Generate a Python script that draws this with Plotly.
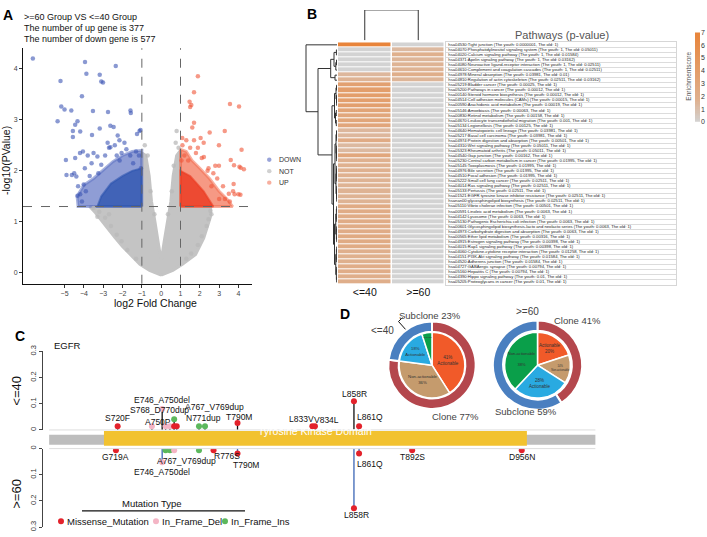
import math
import plotly.graph_objects as go

W, H = 707, 537
FONT = "Liberation Sans, Arial, sans-serif"


def px(x):
    return x / W


def py(y):
    return 1 - y / H


# ---------------- A: volcano ----------------
down_fc = [-6.64, -5.21, -3.94, -3.87, -2.35, -3.18, -3.10, -3.01, -4.10, -5.17, -5.0, -4.65, -3.53,
           -2.75, -1.59, -1.57, -5.36, -4.33, -4.45, -3.18, -2.63, -2.46, -1.12, -1.07, -1.25, -4.57,
           -4.19, -4.57, -3.58, -2.25, -2.16, -2.77, -2.63, -4.93, -4.62, -4.39, -4.19, -4.33, -4.01,
           -1.3, -1.6, -2.05, -2.3, -3.3, -3.5, -3.8, -4.2, -4.45, -3.1, -2.7, -2.4, -1.9, -3.95, -4.5,
           -4.9, -1.15, -1.45, -3.6, -3.25, -2.9, -1.8, -2.15, -4.05, -3.7, -1.05, -4.3, -4.1, -3.9]
down_lp = [4.2, 3.76, 4.13, 3.90, 4.05, 3.88, 3.75, 3.73, 3.46, 3.26, 3.20, 3.18, 3.17,
           3.15, 3.18, 3.13, 2.97, 2.97, 2.90, 2.83, 2.88, 2.86, 2.78, 2.80, 2.72, 2.78,
           2.77, 2.66, 2.70, 2.69, 2.60, 2.55, 2.46, 2.21, 1.92, 1.89, 1.54, 1.51, 1.73,
           2.38, 2.3, 2.35, 2.3, 2.28, 2.35, 2.3, 2.35, 2.25, 2.12, 2.45, 2.5, 2.55, 2.05, 1.95,
           1.92, 2.3, 2.15, 2.15, 1.95, 2.3, 2.42, 2.2, 2.38, 1.9, 2.05, 1.7, 1.4, 1.6]
up_fc = [1.90, 1.70, 1.47, 1.56, 1.50, 3.56, 4.03, 1.70, 1.61, 1.09, 2.51, 2.04, 3.29, 2.99, 4.16,
         2.21, 3.60, 4.05, 3.77, 2.99, 4.28, 4.11, 3.75, 3.72, 3.8, 4.0, 4.1,
         1.1, 1.3, 1.5, 1.2, 1.8, 2.1, 2.4, 2.7, 2.9, 3.2, 3.5, 2.2, 1.7, 2.45, 2.8, 1.05, 1.4,
         3.3, 3.55, 3.0, 2.6, 1.9]
up_lp = [3.85, 3.54, 3.35, 3.29, 3.25, 3.31, 3.26, 2.94, 2.85, 2.64, 2.75, 2.64, 2.78, 2.50, 2.41,
         2.27, 2.21, 2.08, 2.11, 2.10, 2.03, 2.06, 1.74, 1.6, 1.54, 1.54, 1.53,
         2.5, 2.6, 2.45, 2.3, 2.35, 2.25, 2.0, 1.95, 1.85, 1.7, 1.55, 2.55, 2.6, 2.05, 2.1, 2.2, 2.2,
         1.45, 1.4, 1.45, 1.7, 2.45]
not_fc = [0.8, 0.75, -0.85, 0.9, -0.7, 0.65, -3.5, -3.2, -2.9, -2.6, -2.3, -2.05, -1.75, 2.55, 2.45,
          2.35, 2.1, 1.9, 1.55, -1.3, 1.3, -0.55, 0.55, -0.35, 0.35, -3.3, 2.6, -2.7]
not_lp = [2.78, 2.55, 2.5, 2.45, 2.3, 2.1, 1.27, 1.2, 1.08, 0.92, 0.75, 0.62, 0.45, 1.22, 1.05,
          0.92, 0.72, 0.55, 0.38, 0.28, 0.28, 1.6, 1.6, 1.15, 1.15, 1.1, 1.15, 1.15]

# outlines of the dense, overplotted clouds
not_cloud_fc = [0, -0.6, -1.1, -1.6, -2.0, -2.4, -3.0, -3.4, -3.7, -1.0, -1.0, -0.8, -0.62, -0.5, -0.32,
                -0.15, 0, 0.15, 0.31, 0.5, 0.62, 0.8, 1.0, 1.0, 2.56, 2.55, 2.47, 2.2, 1.78, 1.1, 0.6, 0]
not_cloud_lp = [-0.04, 0.05, 0.17, 0.36, 0.52, 0.7, 1.0, 1.18, 1.3, 1.3, 2.35, 2.3, 1.9, 1.4, 1.0,
                0.6, 0.23, 0.6, 1.0, 1.4, 1.9, 2.3, 2.4, 1.3, 1.3, 1.1, 1.0, 0.68, 0.36, 0.17, 0.05, -0.04]
down_cloud_fc = [-1.0, -4.3, -4.35, -4.0, -3.5, -3.0, -2.5, -2.0, -1.5, -1.0, -1.0]
down_cloud_lp = [1.3, 1.3, 1.5, 1.72, 1.85, 2.02, 2.18, 2.3, 2.38, 2.4, 1.3]
down_core_fc = [-1.0, -3.3, -3.1, -2.6, -2.0, -1.5, -1.0, -1.0]
down_core_lp = [1.3, 1.3, 1.5, 1.75, 1.9, 2.0, 2.05, 1.3]
up_cloud_fc = [1.0, 1.0, 1.3, 1.6, 2.0, 2.5, 3.0, 3.4, 3.7, 1.0]
up_cloud_lp = [1.3, 2.42, 2.38, 2.2, 2.05, 1.85, 1.6, 1.45, 1.3, 1.3]
up_core_fc = [1.0, 1.0, 1.5, 2.2, 2.7, 1.0]
up_core_lp = [1.3, 2.0, 1.9, 1.6, 1.3, 1.3]

n_up, n_down = 377, 577

# ---------------- B: pathway heatmap ----------------
path_id = ["hsa04530", "hsa04070", "hsa04020", "hsa04371", "hsa04080", "hsa04610", "hsa04978", "hsa04810",
           "hsa05219", "hsa05200", "hsa00140", "hsa04514", "hsa00590", "hsa05146", "hsa00830", "hsa04670",
           "hsa05134", "hsa04640", "hsa05217", "hsa04974", "hsa04310", "hsa05323", "hsa04540", "hsa05230",
           "hsa05145", "hsa04976", "hsa04510", "hsa05222", "hsa04014", "hsa05133", "hsa01521", "hsanan00",
           "hsa05110", "hsa00591", "hsa04142", "hsa05130", "hsa00601", "hsa04973", "hsa00565", "hsa04915",
           "hsa04015", "hsa04060", "hsa04151", "hsa04520", "hsa04727", "hsa05160", "hsa04390", "hsa05205"]
path_name = ["Tight junction", "Phosphatidylinositol signaling system", "Calcium signaling pathway",
             "Apelin signaling pathway", "Neuroactive ligand-receptor interaction",
             "Complement and coagulation cascades", "Mineral absorption", "Regulation of actin cytoskeleton",
             "Bladder cancer", "Pathways in cancer", "Steroid hormone biosynthesis",
             "Cell adhesion molecules (CAMs)", "Arachidonic acid metabolism", "Amoebiasis",
             "Retinol metabolism", "Leukocyte transendothelial migration", "Legionellosis",
             "Hematopoietic cell lineage", "Basal cell carcinoma", "Protein digestion and absorption",
             "Wnt signaling pathway", "Rheumatoid arthritis", "Gap junction",
             "Central carbon metabolism in cancer", "Toxoplasmosis", "Bile secretion", "Focal adhesion",
             "Small cell lung cancer", "Ras signaling pathway", "Pertussis",
             "EGFR tyrosine kinase inhibitor resistance", "glycosphingolipid biosynthesis",
             "Vibrio cholerae infection", "Linoleic acid metabolism", "Lysosome",
             "Pathogenic Escherichia coli infection",
             "Glycosphingolipid biosynthesis-lacto and neolacto series",
             "Carbohydrate digestion and absorption", "Ether lipid metabolism", "Estrogen signaling pathway",
             "Rap1 signaling pathway", "Cytokine-cytokine receptor interaction", "PI3K-Akt signaling pathway",
             "Adherens junction", "GABAergic synapse", "Hepatitis C", "Hippo signaling pathway",
             "Proteoglycans in cancer"]
p_youth = [0.0000001, 1, 1, 1, 1, 1, 0.03981, 0.02511, 0.00025, 0.00012, 0.00012, 0.00015, 0.00019,
           0.00063, 0.00158, 0.001, 0.00125, 0.03981, 0.03981, 0.00501, 0.05011, 0.05011, 0.00162,
           0.01995, 0.01995, 0.01995, 0.01995, 0.02511, 0.02511, 0.02511, 0.02511, 0.02511, 0.00501,
           0.0063, 0.0063, 0.0063, 0.0063, 0.0063, 0.00316, 0.00398, 0.00398, 0.01258, 0.01584,
           0.01584, 0.00794, 0.00794, 0.01, 0.01]
p_old = [1, 0.05011, 0.01584, 0.03162, 0.02511, 0.02511, 0.01, 0.03162] + [1] * 40
groups = ["<=40", ">=60"]
score_ticks = [0, 1, 2, 3, 4, 5, 6, 7]

# ---------------- C: EGFR lollipop ----------------
mut_types = ["Missense_Mutation", "In_Frame_Del", "In_Frame_Ins"]
type_color = {"Missense_Mutation": "#e3222b", "In_Frame_Del": "#f4b5c5", "In_Frame_Ins": "#5cb85c"}
young_pos = [720, 740, 746, 748, 750.5, 753, 754.5, 753, 767.5, 771, 790, 833.7, 835.2, 858, 861]
young_frac = [0.014, 0.014, 0.08, 0.014, 0.014, 0.014, 0.014, 0.041, 0.014, 0.014, 0.027, 0.014, 0.014,
              0.11, 0.014]
young_type = ["Missense_Mutation", "In_Frame_Del", "In_Frame_Del", "In_Frame_Del", "In_Frame_Del",
              "Missense_Mutation", "Missense_Mutation", "In_Frame_Ins", "In_Frame_Ins", "In_Frame_Ins",
              "Missense_Mutation", "Missense_Mutation", "Missense_Mutation", "Missense_Mutation",
              "Missense_Mutation"]
old_pos = [719, 746, 748, 750.5, 753, 767.5, 776, 790, 858, 861, 892, 956]
old_frac = [0.006, 0.052, 0.006, 0.006, 0.006, 0.006, 0.006, 0.019, 0.228, 0.019, 0.006, 0.006]
old_type = ["Missense_Mutation", "In_Frame_Del", "In_Frame_Ins", "In_Frame_Ins", "In_Frame_Del",
            "In_Frame_Ins", "Missense_Mutation", "Missense_Mutation", "Missense_Mutation",
            "Missense_Mutation", "Missense_Mutation", "Missense_Mutation"]
young_lab = ["S720F", "E746_A750del", "S768_D770dup", "A767_V769dup", "A750P", "N771dup", "T790M",
             "L833V", "V834L", "L858R", "L861Q"]
young_lab_pos = [720, 746, 744.3, 776.8, 743.4, 770.4, 790.6, 827.5, 841.7, 858.6, 867.4]
young_lab_frac = [0.045, 0.116, 0.075, 0.089, 0.029, 0.047, 0.049, 0.042, 0.039, 0.139, 0.048]
old_lab = ["G719A", "E746_A750del", "A767_V769dup", "R776S", "T790M", "L861Q", "L858R", "T892S", "D956N"]
old_lab_pos = [719, 745.7, 760, 784, 795, 867.4, 859.4, 892, 956]
old_lab_frac = [0.031, 0.089, 0.048, 0.03, 0.063, 0.059, 0.255, 0.031, 0.031]
protein_range = [680, 999]
kinase_domain = [712, 959]

# ---------------- D: clonality donuts ----------------
ring_labels = ["Clone", "Subclone"]
ring_young = [77, 23]
ring_old = [41, 59]
inner_young = [41, 36, 18, 5]
inner_old = [20, 14, 28, 38]
inner_text_young = ["41%<br>Actionable", "Non-actionable<br>36%", "18%<br>Actionable", "Non-actionable"]
inner_text_old = ["Actionable<br>20%", "14%<br>Non-actionable", "28%<br>Actionable",
                  "Non-actionable<br><br>38%"]

fig = go.Figure()

# volcano traces
fig.add_trace(go.Scatter(x=not_cloud_fc, y=not_cloud_lp, fill="toself", mode="lines",
                         line=dict(color="#c4c4c4", width=3), fillcolor="#c4c4c4", hoverinfo="skip"))
fig.add_trace(go.Scatter(x=down_cloud_fc, y=down_cloud_lp, fill="toself", mode="lines",
                         line=dict(color="rgba(95,115,195,0.55)", width=3),
                         fillcolor="rgba(95,115,195,0.7)", hoverinfo="skip"))
fig.add_trace(go.Scatter(x=down_core_fc, y=down_core_lp, fill="toself", mode="lines",
                         line=dict(color="rgba(45,85,175,0.6)", width=2),
                         fillcolor="rgba(45,85,175,0.8)", hoverinfo="skip"))
fig.add_trace(go.Scatter(x=up_cloud_fc, y=up_cloud_lp, fill="toself", mode="lines",
                         line=dict(color="rgba(242,110,80,0.55)", width=3),
                         fillcolor="rgba(242,110,80,0.7)", hoverinfo="skip"))
fig.add_trace(go.Scatter(x=up_core_fc, y=up_core_lp, fill="toself", mode="lines",
                         line=dict(color="rgba(235,60,35,0.6)", width=2),
                         fillcolor="rgba(235,60,35,0.85)", hoverinfo="skip"))
fig.add_trace(go.Scatter(x=not_fc, y=not_lp, mode="markers",
                         marker=dict(size=4.5, color="rgba(185,185,185,0.75)")))
fig.add_trace(go.Scatter(x=down_fc, y=down_lp, mode="markers",
                         marker=dict(size=4.5, color="rgba(60,85,180,0.6)")))
fig.add_trace(go.Scatter(x=up_fc, y=up_lp, mode="markers",
                         marker=dict(size=4.5, color="rgba(240,85,55,0.6)")))

# heatmap
score = [[-math.log10(a), -math.log10(b)] for a, b in zip(p_youth, p_old)]


def fmt(v):
    return f"{v:.8f}".rstrip("0").rstrip(".")


labels = [f"{i}:{n} (The youth: {fmt(a)}, The old: {fmt(b)})"
          for i, n, a, b in zip(path_id, path_name, p_youth, p_old)]
rows = list(range(len(labels)))
heat_scale = [[0, "#d3d3d3"], [0.25, "#dfb08e"], [1, "#e8843a"]]

fig.add_trace(go.Heatmap(z=score, x=[0, 1], y=rows, xaxis="x2", yaxis="y2", zmin=0, zmax=7,
                         colorscale=heat_scale, xgap=1.5, ygap=1, showscale=False))
fig.add_trace(go.Scatter(x=[0.01] * len(labels), y=rows, text=labels, mode="text",
                         textposition="middle right", xaxis="x3", yaxis="y3",
                         textfont=dict(size=4.2, family=FONT, color="#222")))
# colour key drawn as a thin heatmap strip
key_levels = [i / 10 for i in range(71)]
fig.add_trace(go.Heatmap(z=[[v] for v in key_levels], x=[0], y=key_levels, xaxis="x8", yaxis="y8",
                         zmin=0, zmax=7, colorscale=heat_scale, showscale=False))


# dendrograms
def bal(leaves, top):
    if len(leaves) == 1:
        return leaves[0]
    m = len(leaves) // 2
    sub = max(top * 0.5, 0.3)
    return (top, bal(leaves[:m], sub), bal(leaves[m:], sub))


def dendro(node, xs, ys):
    if isinstance(node, int):
        return node, 0.0
    h, a, b = node
    pa, ha = dendro(a, xs, ys)
    pb, hb = dendro(b, xs, ys)
    xs += [ha, h, h, hb, None]
    ys += [pa, pa, pb, pb, None]
    return (pa + pb) / 2, h


A1 = (3.0, bal([1, 2], 0.6), (1.2, bal([3, 4], 0.5), 5))
A = (6.3, A1, (2.0, 6, 7))
B = (2.5, bal(list(range(8, 13)), 1.0), bal(list(range(13, 17)), 1.5))
C = (3.5, bal(list(range(17, 32)), 2.0), bal(list(range(32, 48)), 2.5))
row_tree = (31.0, 0, (19.0, A, (5.0, B, C)))
dx, dy = [], []
dendro(row_tree, dx, dy)
fig.add_trace(go.Scatter(x=dx, y=dy, mode="lines", xaxis="x4", yaxis="y4",
                         line=dict(color="#333", width=1)))
cx, cy = [], []
dendro((1.0, 0, 1), cy, cx)
fig.add_trace(go.Scatter(x=cx, y=cy, mode="lines", xaxis="x5", yaxis="y5",
                         line=dict(color="#333", width=1)))

# lollipops
for pos, frac, typ, yax, stick in [(young_pos, young_frac, young_type, "y6", "#111"),
                                   (old_pos, old_frac, old_type, "y7", "#3b66b5")]:
    sx, sy = [], []
    for p, f in zip(pos, frac):
        sx += [p, p, None]
        sy += [0, f, None]
    fig.add_trace(go.Scatter(x=sx, y=sy, mode="lines", xaxis="x6", yaxis=yax,
                             line=dict(color=stick, width=1.3)))
    fig.add_trace(go.Scatter(x=pos, y=frac, mode="markers", xaxis="x6", yaxis=yax,
                             marker=dict(size=6, color=[type_color[t] for t in typ])))

# donuts
ring_colors = ["#b4474d", "#4a7fc0"]
inner_colors = ["#f15a29", "#c59b6d", "#29aae1", "#0a9f4a"]
for ring, inner, itext, cxp, r_out, r_in in [(ring_young, inner_young, inner_text_young, 432, 44.5, 33.5),
                                             (ring_old, inner_old, inner_text_old, 537.5, 45.5, 33.5)]:
    cyp = 366
    fig.add_trace(go.Pie(values=ring, labels=ring_labels, sort=False, direction="clockwise",
                         hole=(r_out - 10.5) / r_out, textinfo="none",
                         marker=dict(colors=ring_colors, line=dict(color="white", width=2)),
                         domain=dict(x=[px(cxp - r_out), px(cxp + r_out)],
                                     y=[py(cyp + r_out), py(cyp - r_out)])))
    fig.add_trace(go.Pie(values=inner, sort=False, direction="clockwise", text=itext,
                         textinfo="text", textposition="inside", insidetextorientation="horizontal",
                         textfont=dict(size=4.5, color="#333", family=FONT),
                         marker=dict(colors=inner_colors, line=dict(color="white", width=1.5)),
                         domain=dict(x=[px(cxp - r_in), px(cxp + r_in)],
                                     y=[py(cyp + r_in), py(cyp - r_in)])))


def note(x, y, text, size=9, color="#222", xanchor="center", angle=0):
    return dict(x=px(x), y=py(y), xref="paper", yref="paper", text=text, showarrow=False,
                font=dict(family=FONT, size=size, color=color), xanchor=xanchor,
                yanchor="middle", textangle=angle)


ann = [
    note(8, 9, "<b>A</b>", 14, "#000"), note(312, 8, "<b>B</b>", 14, "#000"),
    note(20, 336, "<b>C</b>", 14, "#000"), note(345, 314, "<b>D</b>", 14, "#000"),
    note(22, 11, ">=60 Group VS <=40 Group", 9, "#111", "left"),
    note(22, 22.5, f"The number of up gene is {n_up}", 9, "#111", "left"),
    note(22, 33.5, f"The number of down gene is {n_down}", 9, "#111", "left"),
    note(155, 303, "log2 Fold Change", 10.5, "#111"),
    note(6, 158, "-log10(PValue)", 10.5, "#111", angle=-90),
    note(277, 156.7, "DOWN", 7, "#333", "left"), note(277, 168.3, "NOT", 7, "#333", "left"),
    note(277, 180, "UP", 7, "#333", "left"),
    note(562, 29.5, "Pathways (p-value)", 11, "#555"),
    note(689, 72, "Enrichmentscore", 6.5, "#555", angle=-90),
    note(52, 346, "EGFR", 9.5, "#111", "left"),
    note(17, 392, "<=40", 13, "#111", angle=-90), note(17, 497, ">=60", 13, "#111", angle=-90),
    note(152, 507, "Mutation Type", 9.5, "#111"),
    note(382, 331, "<=40", 10, "#444"), note(430, 315.5, "Subclone 23%", 9.5, "#444"),
    note(456, 418, "Clone 77%", 9.5, "#444"), note(527, 311, ">=60", 10, "#444"),
    note(577, 320, "Clone 41%", 9.5, "#444"), note(526, 413.5, "Subclone 59%", 9.5, "#444"),
]
for name, xl in zip(mut_types, [65, 160, 229]):
    ann.append(note(xl, 525, name, 9.5, "#111", "left"))
for lab, p, f in zip(young_lab, young_lab_pos, young_lab_frac):
    ann.append(dict(x=p, y=f, xref="x6", yref="y6", text=lab, showarrow=False,
                    font=dict(family=FONT, size=8.5, color="#111")))
for lab, p, f in zip(old_lab, old_lab_pos, old_lab_frac):
    ann.append(dict(x=p, y=f, xref="x6", yref="y7", text=lab, showarrow=False,
                    font=dict(family=FONT, size=8.5, color="#111")))
ann.append(dict(x=sum(kinase_domain) / 2, y=py(441), xref="x6", yref="paper",
                text="Tyrosine Kinase Domain", showarrow=False,
                font=dict(family=FONT, size=10.5, color="white")))

shapes = [
    dict(type="line", xref="x", yref="y domain", x0=-1, x1=-1, y0=0, y1=1,
         line=dict(color="#666", width=1, dash="dash")),
    dict(type="line", xref="x", yref="y domain", x0=1, x1=1, y0=0, y1=1,
         line=dict(color="#666", width=1, dash="dash")),
    dict(type="line", xref="x domain", yref="y", x0=0, x1=1, y0=1.301, y1=1.301,
         line=dict(color="#666", width=1, dash="dash")),
    dict(type="line", xref="x6", yref="paper", x0=protein_range[0], x1=protein_range[1],
         y0=py(432), y1=py(432), line=dict(color="#dddddd", width=1)),
    dict(type="line", xref="x6", yref="paper", x0=protein_range[0], x1=protein_range[1],
         y0=py(451), y1=py(451), line=dict(color="#dddddd", width=1)),
    dict(type="rect", xref="x6", yref="paper", x0=protein_range[0], x1=protein_range[1],
         y0=py(447), y1=py(437), fillcolor="#bdbdbd", line=dict(width=0)),
    dict(type="rect", xref="x6", yref="paper", x0=kinase_domain[0], x1=kinase_domain[1],
         y0=py(448), y1=py(433), fillcolor="#f2c230", line=dict(width=0)),
    dict(type="line", xref="paper", yref="paper", x0=px(82), x1=px(245), y0=py(514.5), y1=py(514.5),
         line=dict(color="#111", width=1.3)),
    dict(type="path", xref="paper", yref="paper",
         path=f"M {px(402.5)} {py(317.5)} L {px(398.5)} {py(321.5)} L {px(405.5)} {py(329.5)}",
         line=dict(color="#111", width=1)),
]
for col, yy in zip(["rgba(70,90,185,0.55)", "rgba(190,190,190,0.7)", "rgba(240,110,80,0.55)"],
                   [156.7, 168.3, 180]):
    shapes.append(dict(type="circle", xref="paper", yref="paper", x0=px(267), x1=px(271.5),
                       y0=py(yy + 2.2), y1=py(yy - 2.2), fillcolor=col, line=dict(width=0)))
for name, xd in zip(mut_types, [61, 156, 225]):
    shapes.append(dict(type="circle", xref="paper", yref="paper", x0=px(xd - 3), x1=px(xd + 3),
                       y0=py(528), y1=py(522), fillcolor=type_color[name], line=dict(width=0)))

tick_font = dict(family=FONT, size=7, color="#444")
hidden = dict(visible=False, showgrid=False, zeroline=False)
heat_y = [py(284), py(37)]
fig.update_layout(
    width=W, height=H, margin=dict(l=0, r=0, t=0, b=0), showlegend=False,
    paper_bgcolor="white", plot_bgcolor="white", font=dict(family=FONT),
    xaxis=dict(domain=[px(23), px(252)], range=[-7.15, 4.7], tickvals=list(range(-5, 5)),
               showline=True, linecolor="#111", linewidth=1, ticks="outside", ticklen=3,
               tickcolor="#333", tickfont=tick_font, showgrid=False, zeroline=False),
    yaxis=dict(domain=[py(283), py(43)], range=[-0.21, 4.4], tickvals=[0, 1, 2, 3, 4],
               showline=True, linecolor="#111", linewidth=1, ticks="outside", ticklen=3,
               tickcolor="#333", tickfont=tick_font, showgrid=False, zeroline=False),
    xaxis2=dict(domain=[px(338), px(445)], range=[-0.5, 1.5], anchor="y2", tickvals=[0, 1],
                ticktext=groups, ticks="", tickfont=dict(family=FONT, size=10.5, color="#111"),
                showgrid=False, zeroline=False),
    yaxis2=dict(domain=heat_y, range=[47.5, -0.5], anchor="x2", showticklabels=False, ticks="",
                showgrid=False, zeroline=False),
    xaxis3=dict(domain=[px(446), px(676)], range=[0, 1], anchor="y3", showticklabels=False,
                ticks="", showgrid=False, zeroline=False, showline=True, mirror=True,
                linecolor="#d6d6d6", linewidth=0.8),
    yaxis3=dict(domain=heat_y, range=[47.5, -0.5], anchor="x3", showticklabels=False, ticks="",
                tickvals=[i + 0.5 for i in range(47)], showgrid=True, gridcolor="#dcdcdc",
                gridwidth=0.6, zeroline=False, showline=True, mirror=True, linecolor="#d6d6d6",
                linewidth=0.8),
    xaxis4=dict(domain=[px(305), px(337)], range=[32, 0], anchor="y4", **hidden),
    yaxis4=dict(domain=heat_y, range=[47.5, -0.5], anchor="x4", **hidden),
    xaxis5=dict(domain=[px(338), px(445)], range=[-0.5, 1.5], anchor="y5", **hidden),
    yaxis5=dict(domain=[py(35), py(4)], range=[0, 1], anchor="x5", **hidden),
    xaxis6=dict(domain=[px(43), px(600)], range=[676.4, 1001.7], anchor="y6", **hidden),
    yaxis6=dict(domain=[py(432), py(352)], range=[0, 0.3], anchor="x6", tickvals=[0, 0.1, 0.2, 0.3],
                tickangle=-90, showline=True, linecolor="#444", ticks="outside", ticklen=3,
                tickcolor="#444", tickfont=dict(family=FONT, size=7.5, color="#333"),
                showgrid=False, zeroline=False),
    yaxis7=dict(domain=[py(531), py(451)], range=[0.3, 0], anchor="x6", tickvals=[0, 0.1, 0.2, 0.3],
                tickangle=-90, showline=True, linecolor="#444", ticks="outside", ticklen=3,
                tickcolor="#444", tickfont=dict(family=FONT, size=7.5, color="#333"),
                showgrid=False, zeroline=False),
    xaxis8=dict(domain=[px(695), px(700)], range=[-0.5, 0.5], anchor="y8", **hidden),
    yaxis8=dict(domain=[py(118), py(27)], range=[0, 7], anchor="x8", side="right",
                tickvals=score_ticks, ticks="", showline=False, showgrid=False, zeroline=False,
                tickfont=dict(family=FONT, size=7, color="#333")),
    annotations=ann, shapes=shapes,
)

# the page's default 8px body margin would push the figure off the window
fig.write_html("out.html", config={"displayModeBar": False},
               post_script="document.body.style.margin='0';")
